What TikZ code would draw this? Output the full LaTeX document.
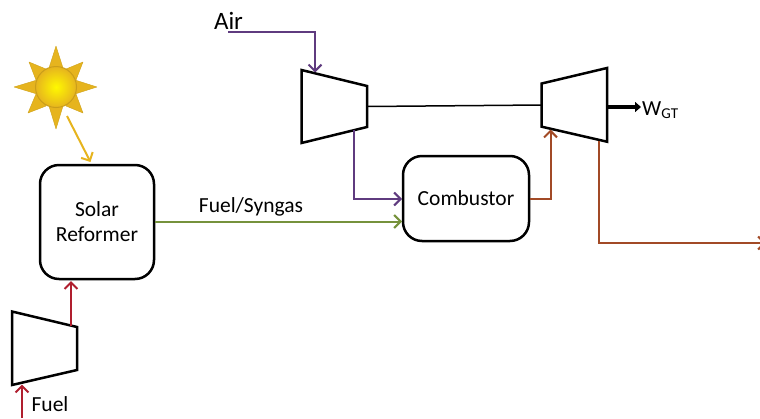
\documentclass[tikz,border=0pt]{standalone}
\usepackage{fontspec}
\setmainfont{Carlito}
\usetikzlibrary{arrows.meta,calc}
\definecolor{cpurple}{HTML}{5F3B7F}
\definecolor{cgreen}{HTML}{76923C}
\definecolor{cbrown}{HTML}{A24A26}
\definecolor{cred}{HTML}{B01E2E}
\definecolor{cgold}{HTML}{E6B41E}
\tikzset{
  x=1pt,y=-1pt,
  equip/.style={draw=black,line width=2.5pt,line join=miter},
  procbox/.style={draw=black,line width=2.5pt,rounded corners=19pt,inner sep=0pt,align=center,font=\fontsize{21.5}{25}\selectfont},
  flow/.style={line width=2pt,-{Straight Barb[length=6.5pt,width=13pt,line width=2pt]}},
  lbl/.style={inner sep=0pt,font=\fontsize{21.5}{25}\selectfont},
  spike/.style={fill=cgold,draw=cgold!90!black,line width=0.4pt,line join=round},
}
\begin{document}
\begin{tikzpicture}
\useasboundingbox (0,0) rectangle (760,418);
% sun
\coordinate (sun) at (56,87);
\draw[spike] (56,46) -- (63,68) -- (49,68) -- cycle;
\draw[spike] (97,87) -- (75,94) -- (75,80) -- cycle;
\draw[spike] (56,129) -- (49,106) -- (63,106) -- cycle;
\draw[spike] (14,87) -- (37,80) -- (37,94) -- cycle;
\draw[spike] (83,62) -- (76,80) -- (66,69) -- cycle;
\draw[spike] (29,62) -- (46,69) -- (36,80) -- cycle;
\draw[spike] (83,113) -- (66,106) -- (76,94) -- cycle;
\draw[spike] (28,113) -- (36,94) -- (46,106) -- cycle;
\shade[inner color=yellow!95!orange,outer color=cgold,draw=cgold!88!black,line width=1pt] (sun) circle (20.5);
% equipment corners
\coordinate (ca) at (301.5,70); \coordinate (cb) at (367,86); \coordinate (cc) at (367,127); \coordinate (cd) at (301.5,143);
\coordinate (ta) at (541.7,83.5); \coordinate (tb) at (607,68); \coordinate (tc) at (607,141.7); \coordinate (td) at (541.7,126.7);
\coordinate (fa) at (12,311.5); \coordinate (fb) at (77,327); \coordinate (fc) at (77,370); \coordinate (fd) at (12,385);
\draw[equip] (ca) -- (cb) -- (cc) -- (cd) -- cycle;
\draw[equip] (ta) -- (tb) -- (tc) -- (td) -- cycle;
\draw[equip] (fa) -- (fb) -- (fc) -- (fd) -- cycle;
% boxes
\node[procbox,minimum width=114pt,minimum height=114pt] (reformer) at (97,222) {\raisebox{-1pt}{Solar}\\\raisebox{-1pt}{Reformer}};
\node[procbox,minimum width=126pt,minimum height=85pt] (combustor) at (466,198.5) {\raisebox{-1pt}{Combustor}};
% free ends
\coordinate (sunout) at (67,116); \coordinate (sunin) at (90.5,162);
\coordinate (fuelin) at (22,418); \coordinate (fuelhit) at (22,384.5);
\coordinate (fout) at (71,325.5); \coordinate (refin) at (71,281);
\coordinate (airin) at (228,32); \coordinate (airhit) at (315,72.5);
\coordinate (cout) at (354,130); \coordinate (cbin) at (402,199);
\coordinate (gasin) at (402,221.5);
\coordinate (brin) at (550.5,129.5);
\coordinate (exout) at (598.5,141); \coordinate (exend) at (766,243);
\coordinate (shafta) at (367,106.5); \coordinate (shaftb) at (541.7,105);
\coordinate (wout) at (607,107); \coordinate (wend) at (641,107);
% connectors
\draw[flow,cgold] (sunout) -- (sunin);
\draw[flow,cred] (fuelin) -- (fuelhit);
\draw[flow,cred] (fout) -- (refin);
\draw[flow,cpurple] (airin) -| (airhit);
\draw[flow,cpurple] (cout) |- (cbin);
\draw[flow,cgreen] (reformer.east |- gasin) -- (gasin);
\draw[flow,cbrown] (combustor.east) -| (brin);
\draw[flow,cbrown] (exout) |- (exend);
\draw[black,line width=1.5pt] (shafta) -- (shaftb);
\draw[black,line width=4pt,-{Triangle[length=6pt,width=10pt]}] (wout) -- (wend);
% labels
\node[lbl,font=\fontsize{25}{28}\selectfont] (air) at (228.5,21) {Air};
\node[lbl] (fuel) at (50,404) {Fuel};
\node[lbl] (syn) at (251,207) {Fuel/Syngas};
\node[lbl,anchor=west,font=\fontsize{21.5}{24}\selectfont] (wgt) at (642,110) {W\textsubscript{GT}};
\end{tikzpicture}
\end{document}
